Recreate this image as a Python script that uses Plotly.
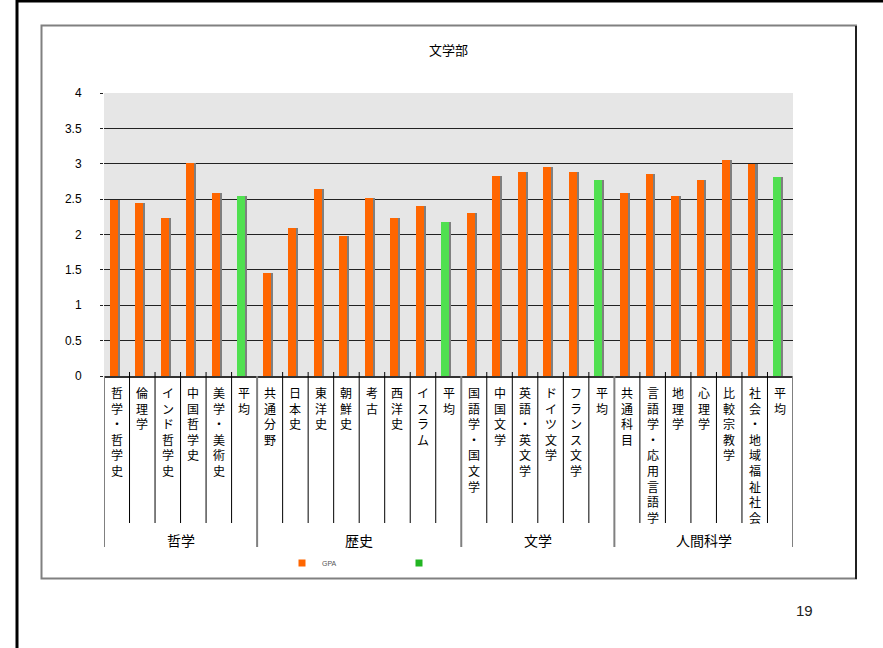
import plotly.graph_objects as go

# ---------------- data ----------------
categories = ["哲学・哲学史", "倫理学", "インド哲学史", "中国哲学史", "美学・美術史", "平均",
              "共通分野", "日本史", "東洋史", "朝鮮史", "考古", "西洋史", "イスラム", "平均",
              "国語学・国文学", "中国文学", "英語・英文学", "ドイツ文学", "フランス文学", "平均",
              "共通科目", "言語学・応用言語学", "地理学", "心理学", "比較宗教学", "社会・地域福祉社会", "平均"]
category_group = (["哲学"] * 6 + ["歴史"] * 8 + ["文学"] * 6 + ["人間科学"] * 7)
groups = ["哲学", "歴史", "文学", "人間科学"]
gpa = [2.49, 2.45, 2.24, 3.01, 2.58, 2.55,
       1.46, 2.09, 2.65, 1.98, 2.51, 2.24, 2.40, 2.18,
       2.30, 2.82, 2.89, 2.95, 2.89, 2.77,
       2.58, 2.85, 2.55, 2.77, 3.06, 2.99, 2.81]
y_ticks = [0, 0.5, 1, 1.5, 2, 2.5, 3, 3.5, 4]
title_text = "文学部"
series_name = "GPA"
page_number = "19"

# ---------------- layout helpers (pixels -> paper) ----------------
W, H = 883, 648
L, R, T, B = 104, 793, 93, 376


def px(x):
    return (x - L) / (R - L)


def py(y):
    return (B - y) / (B - T)


CJK = "Noto Sans CJK JP"
SANS = "Liberation Sans, Arial, sans-serif"
ORANGE = "#FF6600"
GREEN = "#50E050"
GREEN_LEG = "#22B522"

idx = list(range(len(categories)))
is_avg = [c == "平均" for c in categories]
orange_vals = [v if not a else None for v, a in zip(gpa, is_avg)]
green_vals = [v if a else None for v, a in zip(gpa, is_avg)]

BW = 0.31
OFF = -0.28

fig = go.Figure()
# shadow
fig.add_trace(go.Bar(x=idx, y=gpa, width=BW, offset=OFF + 0.08,
                     marker=dict(color="#7F7F7F", line=dict(width=0)),
                     showlegend=False, hoverinfo="skip"))
fig.add_trace(go.Bar(x=idx, y=orange_vals, width=BW, offset=OFF, name=series_name,
                     marker=dict(color=ORANGE, line=dict(width=0)), showlegend=False))
fig.add_trace(go.Bar(x=idx, y=green_vals, width=BW, offset=OFF, name=" ",
                     marker=dict(color=GREEN, line=dict(width=0)), showlegend=False))
# legend entries
fig.add_trace(go.Scatter(x=[None], y=[None], mode="markers", name=series_name,
                         marker=dict(symbol="square", size=7, color=ORANGE)))
fig.add_trace(go.Scatter(x=[None], y=[None], mode="markers", name=" ",
                         marker=dict(symbol="square", size=7, color=GREEN_LEG)))

annotations = []
# vertical category labels (stacked characters)
for i, lab in enumerate(categories):
    annotations.append(dict(x=i, y=0, xref="x", yref="paper", text="<br>".join(lab),
                            showarrow=False, yanchor="top", xanchor="center",
                            borderpad=0, yshift=-7,
                            font=dict(family=CJK, size=12, color="#000")))
# group labels
for g in groups:
    members = [i for i, cg in enumerate(category_group) if cg == g]
    center = (members[0] + members[-1]) / 2
    annotations.append(dict(x=center, y=py(540), xref="x", yref="paper", text=g,
                            showarrow=False, yanchor="middle",
                            font=dict(family=CJK, size=14, color="#000")))
# page number
annotations.append(dict(x=px(815), y=py(621), xref="paper", yref="paper", text=page_number,
                        showarrow=False, font=dict(family=SANS, size=15, color="#222")))

shapes = []
# outer slide frame
shapes.append(dict(type="line", xref="paper", yref="paper", x0=px(17), x1=px(17),
                   y0=py(0), y1=py(648), line=dict(color="#000", width=3)))
shapes.append(dict(type="line", xref="paper", yref="paper", x0=px(16), x1=px(883),
                   y0=py(1), y1=py(1), line=dict(color="#000", width=3)))
# chart box
shapes.append(dict(type="rect", xref="paper", yref="paper", x0=px(41.5), x1=px(856),
                   y0=py(25.5), y1=py(578.5), line=dict(color="#808080", width=2)))
shapes.append(dict(type="line", xref="paper", yref="paper", x0=px(856), x1=px(856),
                   y0=py(26), y1=py(579), line=dict(color="#000", width=1.5)))
# category separators and group separators
group_bounds = set()
start = 0
for g in groups:
    n = category_group.count(g)
    group_bounds.add(start)
    start += n
group_bounds.add(start)
for b in range(len(categories) + 1):
    if b in group_bounds:
        shapes.append(dict(type="line", xref="x", yref="paper", x0=b - 0.5, x1=b - 0.5,
                           y0=0, y1=py(547), line=dict(color="#808080", width=2)))
    else:
        shapes.append(dict(type="line", xref="x", yref="paper", x0=b - 0.5, x1=b - 0.5,
                           y0=py(372), y1=py(523), line=dict(color="#000", width=1)))

fig.update_layout(
    width=W, height=H, autosize=False,
    margin=dict(l=L, r=W - R, t=T, b=H - B, pad=0),
    paper_bgcolor="#FFFFFF", plot_bgcolor="#E6E6E6",
    barmode="overlay", bargap=0,
    title=dict(text=title_text, x=px(448.5), xref="paper", xanchor="center",
               y=1 - 50 / H, yanchor="middle",
               font=dict(family=CJK, size=13, color="#000")),
    xaxis=dict(range=[-0.5, len(categories) - 0.5], showticklabels=False, showgrid=False,
               zeroline=False, showline=True, linecolor="#333", linewidth=1.5, ticks=""),
    yaxis=dict(range=[0, 4], tickvals=y_ticks, showgrid=True, gridcolor="#222", gridwidth=1,
               zeroline=False, showline=False, ticks="outside", ticklen=3, tickcolor="#222",
               ticklabelstandoff=16,
               tickfont=dict(family=SANS, size=12, color="#000")),
    legend=dict(orientation="h", x=px(282), xanchor="left", y=py(563), yanchor="middle",
                font=dict(family=SANS, size=7, color="#555"), bgcolor="rgba(0,0,0,0)",
                entrywidthmode="pixels", entrywidth=72, itemclick=False),
    annotations=annotations,
    shapes=shapes,
)

fig.write_html("out.html")
